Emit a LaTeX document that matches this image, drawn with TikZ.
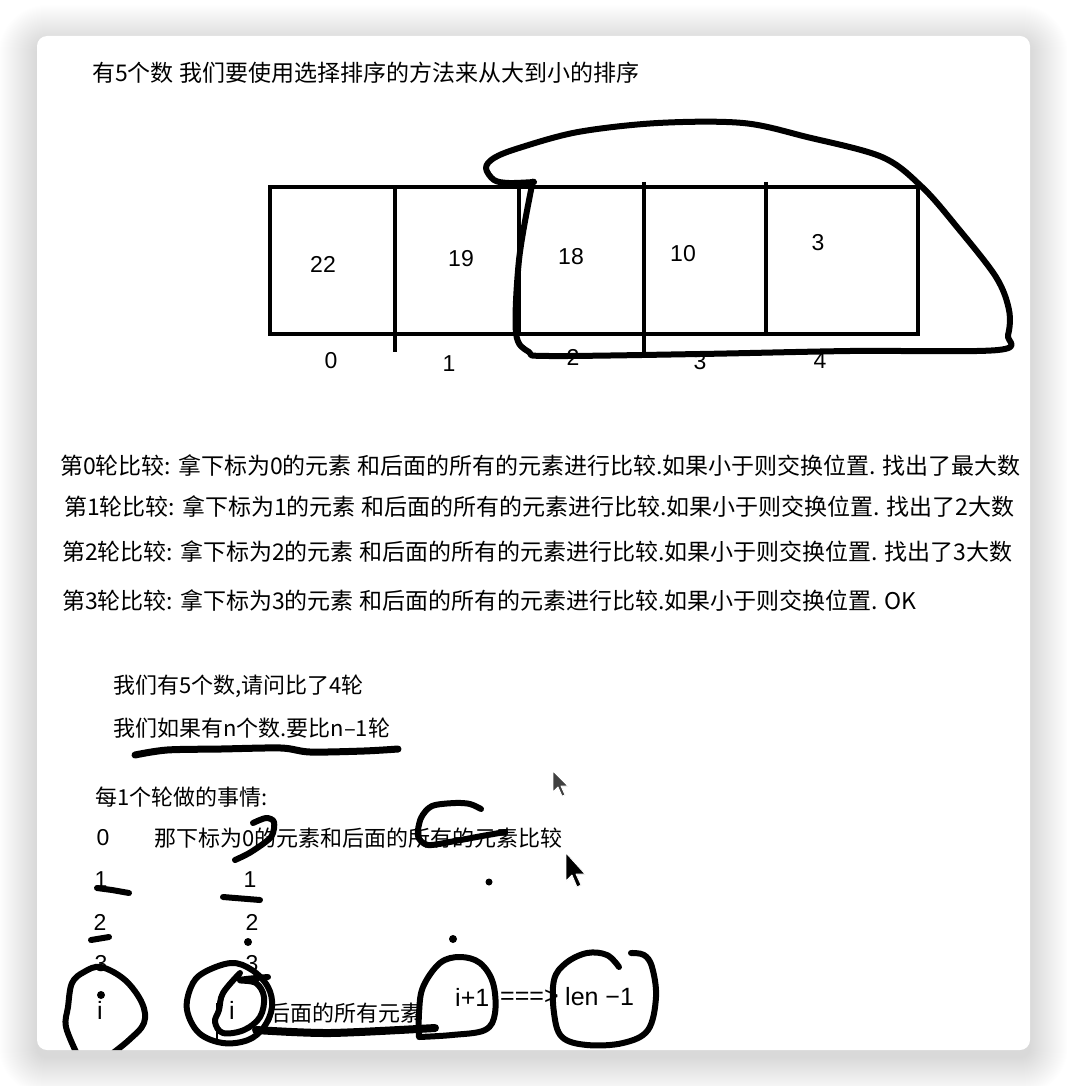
\documentclass[tikz,border=0pt]{standalone}
\usepackage{fontspec}
\newfontfamily\cjk{Noto Sans CJK SC}
\newfontfamily\hel{Liberation Sans}
\begin{document}
\begin{tikzpicture}[x=1pt,y=-1pt,
  hand/.style={line width=6pt, line cap=round, line join=round},
  txt/.style={anchor=west, inner sep=0pt, font=\cjk\fontsize{23}{23}\selectfont},
  txtb/.style={anchor=west, inner sep=0pt, font=\cjk\fontsize{22}{22}\selectfont},
  num/.style={inner sep=0pt, font=\hel\fontsize{23}{23}\selectfont},
  numw/.style={anchor=west, inner sep=0pt, font=\hel\fontsize{25}{25}\selectfont},
  cellline/.style={line width=4.5pt},
  cursor/.style={fill=black, draw=white, line width=0.8pt, line join=round}]
\useasboundingbox (0,0) rectangle (1066,1086);
\fill[white] (0,0) rectangle (1066,1086);
% soft shadow
\foreach \i in {1,...,38} {
  \fill[black, opacity=0.0055, rounded corners={(10+\i)*1pt}]
    ({37-\i},{43-\i}) rectangle ({1030+\i},{1057+\i});
}
% card
\fill[white, rounded corners=10pt] (37,36) rectangle (1030,1050);
\begin{scope}
\clip[rounded corners=10pt] (37,36) rectangle (1030,1050);

% title
\node[txt] (title) at (92,73) {有5个数 我们要使用选择排序的方法来从大到小的排序};

% array
\draw[cellline] (270,187) rectangle (918,334);
\draw[cellline] (395,187) -- (395,352);
\draw[cellline] (519,187) -- (519,334);
\draw[cellline] (644,182) -- (644,352);
\draw[cellline] (766,182) -- (766,334);
\node[num] (v0) at (323,264) {22};
\node[num] (v1) at (461,259) {19};
\node[num] (v2) at (571,257) {18};
\node[num] (v3) at (683,254) {10};
\node[num] (v4) at (818,243) {3};
\node[num] (k0) at (331,361) {0};
\node[num] (k1) at (449,364) {1};
\node[num] (k2) at (573,357) {2};
\node[num] (k3) at (700,362) {3};
\node[num] (k4) at (820,361) {4};
% hand-drawn loop
\draw[hand] plot[smooth, tension=0.55] coordinates {
  (534,182) (531,190) (519,260) (516,333) (529,352) (549,356) (700,354) (850,351) (998,350)
  (1008,335) (1009,310) (996,277) (957,227) (922,187) (882,157) (807,137) (743,123) (658,123)
  (578,132) (519,148) (494,158) (486,168) (494,180) (509,183) (534,182)};

% rounds
\node[txt] (r0) at (60,466) {第0轮比较: 拿下标为0的元素 和后面的所有的元素进行比较.如果小于则交换位置. 找出了最大数};
\node[txt] (r1) at (64,507) {第1轮比较: 拿下标为1的元素 和后面的所有的元素进行比较.如果小于则交换位置. 找出了2大数};
\node[txt] (r2) at (62,552) {第2轮比较: 拿下标为2的元素 和后面的所有的元素进行比较.如果小于则交换位置. 找出了3大数};
\node[txt] (r3) at (62,601) {第3轮比较: 拿下标为3的元素 和后面的所有的元素进行比较.如果小于则交换位置. OK};

\node[txtb] (q1) at (113,686) {我们有5个数,请问比了4轮};
\node[txtb] (q2) at (113,728) {我们如果有n个数.要比n–1轮};
\draw[hand, line width=7pt] plot[smooth] coordinates {(135,755) (167,750) (221,749) (281,748) (310,752) (364,751) (398,749)};

\node[txtb] (each) at (95,797) {每1个轮做的事情:};
\node[num] (l0) at (103,838) {0};
\node[txtb] (s0) at (154,838) {那下标为0的元素和后面的所有的元素比较};
\node[num] (l1) at (101,880) {1};
\node[num] (m1) at (250,880) {1};
\node[num] (l2) at (100,922) {2};
\node[num] (m2) at (252,922) {2};
\node[num] (l3) at (101,964) {3};
\node[num] (m3) at (252,964) {3};

\node[numw, anchor=center] (i1) at (100,1010) {i};
\node[numw, anchor=center] (i2) at (232,1010) {i};
\node[txtb] (after) at (268,1013) {后面的所有元素};
\node[numw] (ip) at (455,997) {i+1};
\node[numw] (arr) at (500,997) {===>};
\node[numw] (len) at (565,997) {len −1};

% strokes over "0 那下标..."
\draw[hand] plot[smooth] coordinates {(253,823) (266,818) (274,822) (271,837) (251,852) (235,860)};
\draw[hand] plot[smooth] coordinates {(481,809) (470,804) (455,803) (432,806) (421,818) (418,836) (428,845) (455,841) (482,836) (505,832)};
% dashes under numbers
\draw[hand] (97,888) -- (112,890) -- (129,893);
\draw[hand] (223,897) -- (260,900);
\draw[hand] (91,940) -- (109,937);
\fill (248,942) circle (4pt);
\fill (489,882) circle (3.5pt);
\fill (453,939) circle (4pt);
% left i circle
\draw[hand] plot[smooth, tension=0.6] coordinates {(78,1056) (66,1027) (68,1007) (72,983) (84,972) (101,967) (125,980) (142,1003) (144,1023) (129,1040) (109,1056)};
\fill (101,995) circle (4pt);
% middle i circles
\draw[hand] plot[smooth cycle, tension=0.6] coordinates {(203,973) (231,963) (252,970) (268,987) (272,1007) (264,1027) (248,1040) (223,1043) (199,1033) (187,1010) (191,987)};
\draw[hand] plot[smooth, tension=0.6] coordinates {(240,973) (223,993) (219,1010) (215,1022) (223,1033) (244,1030) (260,1017) (264,997) (256,983) (240,980) (268,977)};
\draw[line width=1.8pt] (217,1003) -- (217,1040);
\draw[hand, line width=8pt] plot[smooth] coordinates {(256,1030) (330,1033) (435,1028)};
% i+1 circle
\draw[hand] plot[smooth, tension=0.6] coordinates {(419,1037) (419,1013) (423,987) (440,963) (460,957) (480,963) (493,983) (495,1013) (485,1030) (452,1035) (419,1037)};
% len-1 circle
\draw[hand] plot[smooth, tension=0.6] coordinates {(619,967) (607,955) (587,953) (566,963) (554,980) (554,1013) (562,1037) (587,1045) (623,1043) (648,1030) (656,997) (652,967) (644,955) (631,953)};

% cursors
\draw[cursor, fill=black!75] (553,771) -- (553,792) -- (558,787) -- (562,796) -- (565,795) -- (561,786) -- (568,786) -- cycle;
\draw[cursor] (566,853) -- (566,881) -- (572,875) -- (577,887) -- (581,885) -- (576,874) -- (585,874) -- cycle;
\end{scope}
\end{tikzpicture}
\end{document}
